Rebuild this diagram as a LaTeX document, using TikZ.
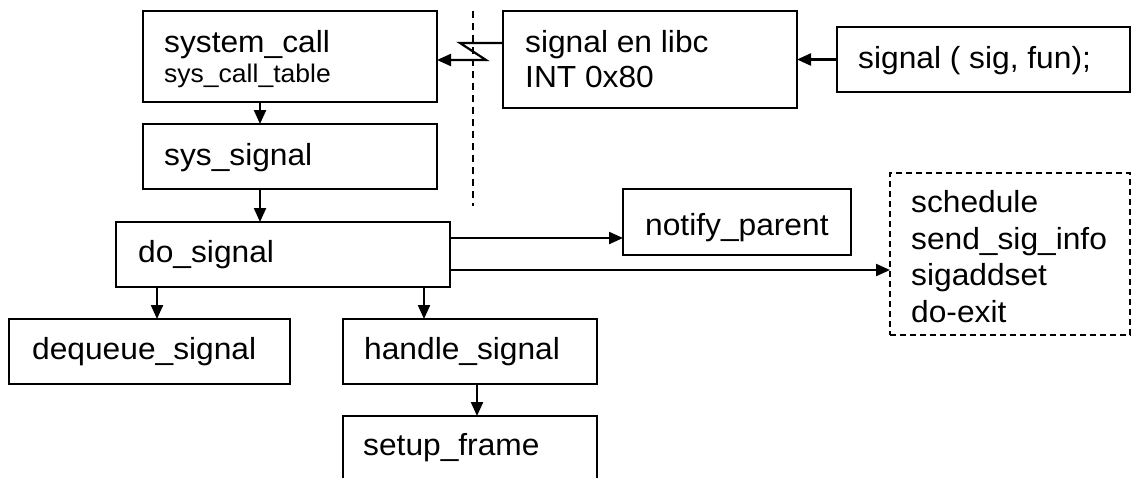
\documentclass[tikz,border=0pt]{standalone}
\usepackage{fontspec}
\setmainfont{Liberation Sans}
\usetikzlibrary{arrows.meta}
\newcommand\wx[1]{\scalebox{1.04}[1]{#1}}
\tikzset{
 box/.style={draw, line width=2.2pt, inner sep=0pt, outer sep=0pt, anchor=north west},
 dbox/.style={box, dash pattern=on 6pt off 4pt, line width=1.8pt},
 lbl/.style={inner sep=0pt, anchor=base west, font=\fontsize{30.5pt}{36pt}\selectfont},
 slbl/.style={lbl, font=\fontsize{25.5pt}{30pt}\selectfont},
 arr/.style={line width=2.2pt, -{Triangle[length=14pt,width=12pt]}},
 sep/.style={line width=1.8pt, dash pattern=on 7pt off 5pt},
}
\begin{document}
\begin{tikzpicture}[x=1pt,y=-1pt]
\clip (0,0) rectangle (1131,477);
\fill[white] (0,0) rectangle (1131,477);
% boxes
\node[box, minimum width=294pt, minimum height=91pt] (sc) at (143,11) {};
\node[box, minimum width=294pt, minimum height=65pt] (ss) at (143,124) {};
\node[box, minimum width=334pt, minimum height=65pt] (ds) at (116,222) {};
\node[box, minimum width=281pt, minimum height=65pt] (dq) at (9,319) {};
\node[box, minimum width=254pt, minimum height=65pt] (hs) at (343,319) {};
\node[box, minimum width=254pt, minimum height=90pt] (sf) at (343,416) {};
\node[box, minimum width=294pt, minimum height=97pt] (lc) at (503,11) {};
\node[box, minimum width=293pt, minimum height=65pt] (sg) at (837,27) {};
\node[box, minimum width=228pt, minimum height=66pt] (np) at (623,189) {};
\node[dbox, minimum width=240pt, minimum height=162pt] (dx) at (890,173) {};
% texts
\node[lbl] (t1) at (164,52) {\wx{system\_call}};
\node[slbl] (t2) at (164,82) {\wx{sys\_call\_table}};
\node[lbl] (t3) at (164,165) {\wx{sys\_signal}};
\node[lbl] (t4) at (138,262) {\wx{do\_signal}};
\node[lbl] (t5) at (32,359) {\wx{dequeue\_signal}};
\node[lbl] (t6) at (364,359) {\wx{handle\_signal}};
\node[lbl] (t7) at (363,455) {\wx{setup\_frame}};
\node[lbl] (t8) at (525,52) {\wx{signal en libc}};
\node[lbl] (t9) at (525,87) {\wx{INT 0x80}};
\node[lbl] (t10) at (858,68) {\wx{signal ( sig, fun);}};
\node[lbl] (t11) at (645,235) {\wx{notify\_parent}};
\node[lbl] (t12) at (911,212) {\wx{schedule}};
\node[lbl] (t13) at (911,249) {\wx{send\_sig\_info}};
\node[lbl] (t14) at (911,285) {\wx{sigaddset}};
\node[lbl] (t15) at (911,322) {\wx{do-exit}};
% helper coordinates
\coordinate (xa) at (260,0);
\coordinate (xb) at (157,0);
\coordinate (xc) at (424,0);
\coordinate (xd) at (477,0);
\coordinate (ya) at (0,238);
\coordinate (yb) at (0,270);
\coordinate (z1) at (460,43);
\coordinate (z2) at (486,60);
\coordinate (v1) at (473,11);
\coordinate (v2) at (473,206);
% separator
\draw[sep] (v1) -- (v2);
% connectors
\draw[arr] (sc.south -| xa) -- (ss.north -| xa);
\draw[arr] (ss.south -| xa) -- (ds.north -| xa);
\draw[arr] (ds.south -| xb) -- (dq.north -| xb);
\draw[arr] (ds.south -| xc) -- (hs.north -| xc);
\draw[arr] (hs.south -| xd) -- (sf.north -| xd);
\draw[arr] (ds.east |- ya) -- (np.west |- ya);
\draw[arr] (ds.east |- yb) -- (dx.west |- yb);
\draw[arr] (sg.west) -- (lc.east |- sg.west);
\draw[arr] (lc.west |- z1) -- (z1) -- (z2) -- (sc.east |- z2);
\end{tikzpicture}
\end{document}
